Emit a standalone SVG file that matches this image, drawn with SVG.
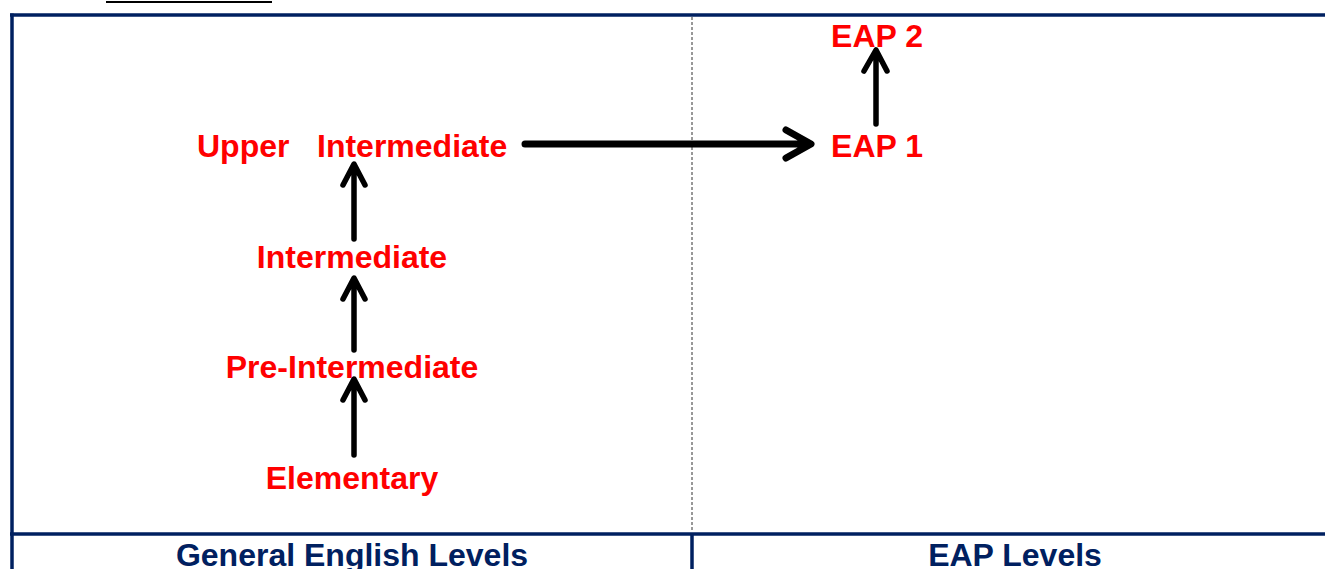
<svg xmlns="http://www.w3.org/2000/svg" width="1325" height="569" viewBox="0 0 1325 569">
<style>
.lvl{font-family:"Liberation Sans",Arial,sans-serif;font-weight:bold;font-size:32px;fill:#FF0000;text-anchor:middle}
.hdr{font-family:"Liberation Sans",Arial,sans-serif;font-weight:bold;font-size:32px;fill:#002060;text-anchor:middle}
.frame{stroke:#002060;stroke-width:3.5;fill:none}
.arr{stroke:#000;stroke-width:5.5;fill:none;stroke-linecap:round;stroke-linejoin:round}
</style>
<rect width="1325" height="569" fill="#fff"/>
<line x1="106" y1="2" x2="272" y2="2" stroke="#000" stroke-width="2"/>
<g id="frame">
<line class="frame" x1="10" y1="15" x2="1325" y2="15"/>
<line class="frame" x1="12" y1="13.5" x2="12" y2="569"/>
<line class="frame" x1="10" y1="534" x2="1325" y2="534"/>
<line class="frame" x1="692" y1="534" x2="692" y2="569"/>
<line x1="692" y1="17" x2="692" y2="532" stroke="#333" stroke-width="1" stroke-dasharray="3,2"/>
</g>
<g id="hdr-general"><text class="hdr" x="352" y="566">General English Levels</text></g>
<g id="hdr-eap"><text class="hdr" x="1015" y="566">EAP Levels</text></g>
<g id="eap2"><text class="lvl" x="877" y="47">EAP 2</text></g>
<g id="eap1"><text class="lvl" x="877" y="157">EAP 1</text></g>
<g id="upper"><text class="lvl" style="text-anchor:start" y="157"><tspan x="197">Upper</tspan><tspan x="317">Intermediate</tspan></text></g>
<g id="intermediate"><text class="lvl" x="352" y="268">Intermediate</text></g>
<g id="preint"><text class="lvl" x="352" y="378">Pre-Intermediate</text></g>
<g id="elementary"><text class="lvl" x="352" y="489">Elementary</text></g>
<g id="connectors">
<path class="arr" d="M354 455V380M343 400L354 379L365 400"/>
<path class="arr" d="M354 350V280M343 299L354 278L365 299"/>
<path class="arr" d="M354 239V166M343 185L354 164L365 185"/>
<path class="arr" d="M876 124V52M864 71L876 50L887 71"/>
<path class="arr" style="stroke-width:7" d="M525 144H810M786 130L811 144L786 158"/>
</g>
</svg>
